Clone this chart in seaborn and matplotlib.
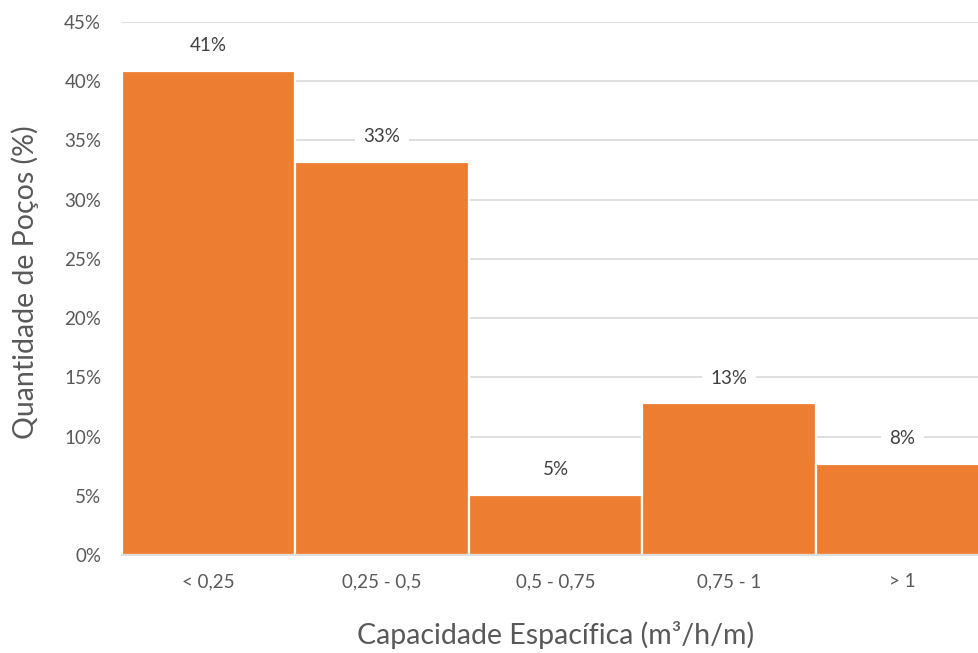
import matplotlib
matplotlib.use("Agg")
import matplotlib.pyplot as plt
import seaborn as sns
import pandas as pd

# Specific capacity classes and share of wells (%)
categories = ["< 0,25", "0,25 - 0,5", "0,5 - 0,75", "0,75 - 1", "> 1"]
shares = [40.9, 33.2, 5.1, 12.8, 7.7]
y_ticks = [0, 5, 10, 15, 20, 25, 30, 35, 40, 45]

df = pd.DataFrame({"classe": categories, "pct": shares})

sns.set_theme(style="white")
plt.rcParams["font.family"] = ["Lato", "DejaVu Sans"]

text_gray = "#595959"
bar_color = "#ED7D31"

fig = plt.figure(figsize=(9.79, 6.53), dpi=100)
ax = fig.add_axes([0.1246, 0.150, 0.8856, 0.8163])

sns.barplot(data=df, x="classe", y="pct", color=bar_color, saturation=1,
            width=1.0, edgecolor="white", linewidth=1.6, ax=ax, zorder=2)

ax.set_ylim(0, 45)
ax.set_xlim(-0.5, len(categories) - 0.5)
ax.set_yticks(y_ticks)
ax.set_yticklabels([f"{t}%" for t in y_ticks])
ax.yaxis.grid(True, color="#D9D9D9", linewidth=1.2, zorder=0)
ax.set_axisbelow(True)

for side in ["top", "right", "left"]:
    ax.spines[side].set_visible(False)
ax.spines["bottom"].set_color("#D9D9D9")
ax.spines["bottom"].set_linewidth(1.2)

ax.tick_params(axis="y", length=0, pad=15, labelsize=13.5, labelcolor=text_gray)
ax.tick_params(axis="x", length=0, pad=13, labelsize=13.5, labelcolor=text_gray)

ax.set_xlabel("Capacidade Espacífica (m³/h/m)", fontsize=20.5, color=text_gray, va="center")
ax.set_ylabel("Quantidade de Poços (%)", fontsize=20.5, color=text_gray, va="center")
ax.xaxis.set_label_coords(0.5, -0.150)
ax.yaxis.set_label_coords(-0.112, 0.511)

for i, v in enumerate(shares):
    ax.annotate(f"{v:.0f}%", xy=(i, v), xytext=(0, 18), textcoords="offset points",
                ha="center", va="center", fontsize=13.5, color="#404040",
                bbox=dict(boxstyle="square,pad=0.45", fc="white", ec="none"),
                zorder=3)

fig.savefig("out.png", dpi=100)
